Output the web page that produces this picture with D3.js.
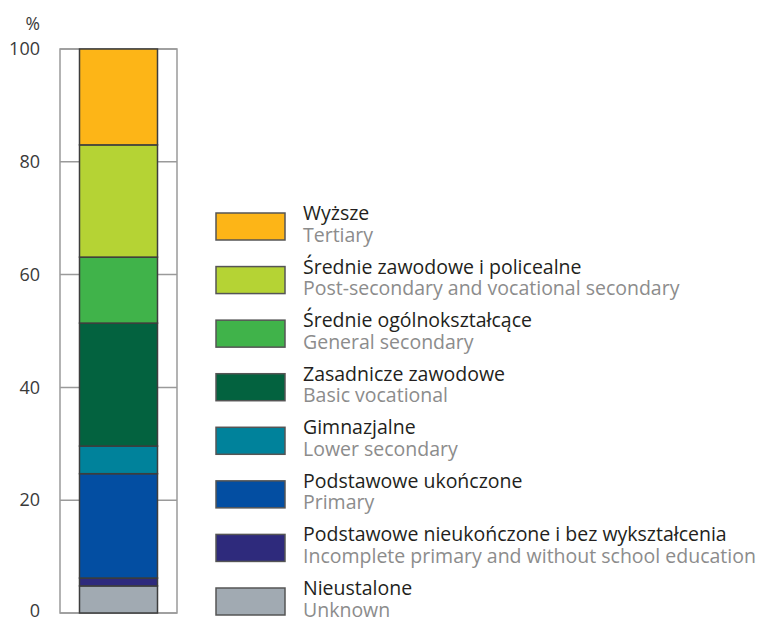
<!DOCTYPE html>
<html>
<head>
<meta charset="utf-8">
<script src="https://cdn.jsdelivr.net/npm/d3@7"></script>
<style>
html,body{margin:0;padding:0;background:#fff;}
svg{display:block;}
</style>
</head>
<body>
<svg id="chart" width="757" height="618"></svg>
<script>
// Data (stack order bottom -> top)
const categoriesPl = ["Nieustalone","Podstawowe nieukończone i bez wykształcenia","Podstawowe ukończone","Gimnazjalne","Zasadnicze zawodowe","Średnie ogólnokształcące","Średnie zawodowe i policealne","Wyższe"];
const categoriesEn = ["Unknown","Incomplete primary and without school education","Primary","Lower secondary","Basic vocational","General secondary","Post-secondary and vocational secondary","Tertiary"];
const values = [4.8, 1.4, 18.5, 4.9, 21.8, 11.7, 19.9, 17.0];
const colors = ["#a1aab2","#2e2a7c","#034ea2","#00829b","#03623f","#40b34a","#b5d334","#fdb517"];
const yTicks = [0,20,40,60,80,100];
const yUnit = "%";

const svg = d3.select("#chart");
const font = "'Open Sans', sans-serif";

const y = d3.scaleLinear().domain([0,100]).range([613,49]);
const frameX0 = 60, frameX1 = 177;
const barX = d3.scaleBand().domain(["all"]).range([frameX0, frameX1]).paddingInner(0).paddingOuter(0.25);

// stack
const row = {};
categoriesEn.forEach((c,i)=>row[c]=values[i]);
const stack = d3.stack().keys(categoriesEn)([row]);

// gridlines/ticks
svg.append("g").selectAll("line").data(yTicks).join("line")
  .attr("x1", frameX0).attr("x2", frameX1)
  .attr("y1", d=>y(d)).attr("y2", d=>y(d))
  .attr("stroke","#9a9a9a").attr("stroke-width",1.5);

// frame
svg.append("rect")
  .attr("x", frameX0).attr("y", y(100))
  .attr("width", frameX1-frameX0).attr("height", y(0)-y(100))
  .attr("fill","none").attr("stroke","#9a9a9a").attr("stroke-width",1.5);

// bars
svg.append("g").selectAll("rect").data(stack).join("rect")
  .attr("x", barX("all"))
  .attr("width", barX.bandwidth())
  .attr("y", d=>y(d[0][1]))
  .attr("height", d=>y(d[0][0])-y(d[0][1]))
  .attr("fill", (d,i)=>colors[i])
  .attr("stroke","#3d3d3d").attr("stroke-width",1.5);

// y axis labels
const axis = d3.axisLeft(y).tickValues(yTicks).tickSize(0).tickPadding(0).tickFormat(d3.format("d"));
const gAxis = svg.append("g").attr("transform","translate(40,0)").call(axis);
gAxis.select(".domain").remove();
gAxis.selectAll("text").attr("font-family",font).attr("font-size",18).attr("fill","#3a3a3a")
  .attr("dy", d=> d===0 ? "0.2em" : "0.32em");

svg.append("text").attr("x",40).attr("y",30).attr("text-anchor","end")
  .attr("font-family",font).attr("font-size",17.5).attr("fill","#3a3a3a").text(yUnit);

// legend (top -> bottom)
const legendOrder = d3.range(values.length).reverse();
const legY = d3.scalePoint().domain(legendOrder).range([213,588]);
const leg = svg.append("g").selectAll("g").data(legendOrder).join("g")
  .attr("transform", i=>`translate(216,${legY(i)})`);
leg.append("rect").attr("width",69).attr("height",27)
  .attr("fill", i=>colors[i]).attr("stroke","#555").attr("stroke-width",1.5);
leg.append("text").attr("x",87).attr("y",7)
  .attr("font-family",font).attr("font-size",19.5).attr("fill","#231f20")
  .text(i=>categoriesPl[i]);
leg.append("text").attr("x",87).attr("y",28.6)
  .attr("font-family",font).attr("font-size",19.5).attr("fill","#8c8c8c")
  .text(i=>categoriesEn[i]);
</script>
</body>
</html>
